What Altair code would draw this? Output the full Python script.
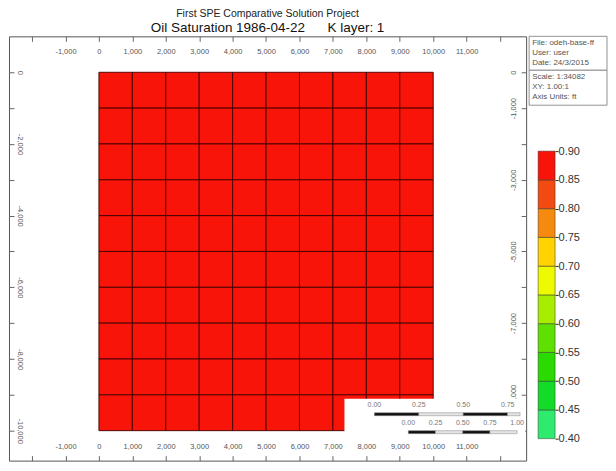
import altair as alt
import pandas as pd

# ---------------- data ----------------
col_x = [0, 1000, 2000, 3000, 4000, 5000, 6000, 7000, 8000, 9000]          # cell left edges (ft)
row_y = [0, -1000, -2000, -3000, -4000, -5000, -6000, -7000, -8000, -9000]  # cell top edges (ft)
cell_size = 1000
oil_sat = [
    [0.88, 0.88, 0.88, 0.88, 0.88, 0.88, 0.88, 0.88, 0.88, 0.88],
    [0.88, 0.88, 0.88, 0.88, 0.88, 0.88, 0.88, 0.88, 0.88, 0.88],
    [0.88, 0.88, 0.88, 0.88, 0.88, 0.88, 0.88, 0.88, 0.88, 0.88],
    [0.88, 0.88, 0.88, 0.88, 0.88, 0.88, 0.88, 0.88, 0.88, 0.88],
    [0.88, 0.88, 0.88, 0.88, 0.88, 0.88, 0.88, 0.88, 0.88, 0.88],
    [0.88, 0.88, 0.88, 0.88, 0.88, 0.88, 0.88, 0.88, 0.88, 0.88],
    [0.88, 0.88, 0.88, 0.88, 0.88, 0.88, 0.88, 0.88, 0.88, 0.88],
    [0.88, 0.88, 0.88, 0.88, 0.88, 0.88, 0.88, 0.88, 0.88, 0.88],
    [0.88, 0.88, 0.88, 0.88, 0.88, 0.88, 0.88, 0.88, 0.88, 0.88],
    [0.88, 0.88, 0.88, 0.88, 0.88, 0.88, 0.88, 0.88, 0.88, 0.88],
]

x_ticks = [-2000, -1000, 0, 1000, 2000, 3000, 4000, 5000, 6000, 7000,
           8000, 9000, 10000, 11000, 12000]
y_ticks = [0, -1000, -2000, -3000, -4000, -5000, -6000, -7000, -8000, -9000, -10000]

cb_edges = [0.40, 0.45, 0.50, 0.55, 0.60, 0.65, 0.70, 0.75, 0.80, 0.85, 0.90]
cb_colors = ["#2EEB6E", "#12DC28", "#2BDA00", "#5EE000", "#A8EC00",
             "#EEFA00", "#FFD200", "#F58A0E", "#F24A10", "#F81408"]

bar1_start = [0.00, 0.25, 0.50, 0.75]
bar1_end = [0.25, 0.50, 0.75, 0.82]
bar1_ticks = [0.00, 0.25, 0.50, 0.75]
bar1_labels = ["0.00", "0.25", "0.50", "0.75"]
bar2_start = [0.00, 0.25, 0.50, 0.75]
bar2_end = [0.25, 0.50, 0.75, 1.00]
bar2_ticks = [0.00, 0.25, 0.50, 0.75, 1.00]
bar2_labels = ["0.00", "0.25", "0.50", "0.75", "1.00"]

info1 = ["File: odeh-base-ff", "User: user", "Date: 24/3/2015"]
info2 = ["Scale: 1:34082", "XY: 1.00:1", "Axis Units: ft"]

title_line = "First SPE Comparative Solution Project"
subtitle_line = "Oil Saturation 1986-04-22\u00a0\u00a0\u00a0\u00a0\u00a0 K layer: 1"

# ---------------- tables ----------------
rows = []
for r, y0 in enumerate(row_y):
    for c, x0 in enumerate(col_x):
        rows.append({"x0": x0, "x1": x0 + cell_size, "y0": y0, "y1": y0 - cell_size,
                     "so": oil_sat[r][c]})
cells = pd.DataFrame(rows)
cb = pd.DataFrame({"lo": cb_edges[:-1], "hi": cb_edges[1:]})
sb1 = pd.DataFrame({"start": bar1_start, "end": bar1_end, "i": list(range(len(bar1_start)))})
sb2 = pd.DataFrame({"start": bar2_start, "end": bar2_end, "i": list(range(len(bar2_start)))})
sb1_lab = pd.DataFrame({"v": bar1_ticks, "t": bar1_labels})
sb2_lab = pd.DataFrame({"v": bar2_ticks, "t": bar2_labels})
one = pd.DataFrame({"k": [0]})

# ---------------- layout / style ----------------
W, H = 518, 425
FONT = "Liberation Sans"
xs = alt.Scale(domain=[-2690, 12780], nice=False, zero=False)
ys = alt.Scale(domain=[-10836, 1003], nice=False, zero=False)
cs = alt.Scale(type="threshold", domain=cb_edges[1:-1], range=cb_colors)

fmt = "replace(format(datum.value, ','), '\u2212', '-')"
ax = dict(domain=False, grid=False, tickColor="#666", tickSize=5, offset=-5,
          labelFont=FONT, labelFontSize=7.5, labelColor="#555", labelOverlap=False)

x_lab = "datum.value >= -1000 && datum.value <= 11000 ? " + fmt + " : ''"
bottom_axis = alt.Axis(orient="bottom", values=x_ticks, labelExpr=x_lab,
                       labelPadding=-14, labelBaseline="middle", labelFlush=False, **ax)
top_axis = alt.Axis(orient="top", values=x_ticks, labelExpr=x_lab,
                    labelPadding=-15, labelBaseline="middle", labelFlush=False, **ax)
left_axis = alt.Axis(orient="left", values=y_ticks,
                     labelExpr="datum.value % 2000 == 0 ? " + fmt + " : ''",
                     labelPadding=-11, labelAngle=90, labelAlign="center",
                     labelBaseline="middle", **ax)
right_axis = alt.Axis(orient="right", values=y_ticks,
                      labelExpr="(datum.value == 0 || datum.value % 2000 != 0) ? " + fmt + " : ''",
                      labelPadding=-13, labelAngle=270, labelAlign="center",
                      labelBaseline="middle", **ax)

cells_layer = alt.Chart(cells).mark_rect(stroke="#400000", strokeWidth=0.9).encode(
    x=alt.X("x0:Q", scale=xs, axis=bottom_axis, title=None),
    x2="x1:Q",
    y=alt.Y("y0:Q", scale=ys, axis=left_axis, title=None),
    y2="y1:Q",
    color=alt.Color("so:Q", scale=cs, legend=None),
)

axes_layer = alt.Chart(cells).mark_rect(opacity=0).encode(
    x=alt.X("x0:Q", scale=xs, axis=top_axis, title=None),
    x2="x1:Q",
    y=alt.Y("y0:Q", scale=ys, axis=right_axis, title=None),
    y2="y1:Q",
)

white_box = alt.Chart(one).mark_rect(fill="white").encode(
    x=alt.value(336), x2=alt.value(517), y=alt.value(363), y2=alt.value(401))

sb1_scale = alt.Scale(domain=[0, 1], range=[366, 544], nice=False, zero=False)
sb2_scale = alt.Scale(domain=[0, 1], range=[400, 509], nice=False, zero=False)
seg_fill = alt.condition("datum.i % 2 == 0", alt.value("#111111"), alt.value("#e4e4e4"))

bar1 = alt.Chart(sb1).mark_rect(stroke="#888", strokeWidth=0.5).encode(
    x=alt.X("start:Q", scale=sb1_scale, axis=None), x2="end:Q",
    y=alt.value(377), y2=alt.value(380), fill=seg_fill)
bar1_text = alt.Chart(sb1_lab).mark_text(font=FONT, fontSize=7, color="#777").encode(
    x=alt.X("v:Q", scale=sb1_scale, axis=None), y=alt.value(369), text="t:N")
bar2 = alt.Chart(sb2).mark_rect(stroke="#888", strokeWidth=0.5).encode(
    x=alt.X("start:Q", scale=sb2_scale, axis=None), x2="end:Q",
    y=alt.value(395), y2=alt.value(398), fill=seg_fill)
bar2_text = alt.Chart(sb2_lab).mark_text(font=FONT, fontSize=7, color="#777").encode(
    x=alt.X("v:Q", scale=sb2_scale, axis=None), y=alt.value(387), text="t:N")

cb_axis = alt.Axis(orient="right", offset=29, values=cb_edges, format=".2f", domain=False,
                   grid=False, tickSize=3, tickColor="#222", labelPadding=0,
                   labelFont=FONT, labelFontSize=11, labelColor="#333", labelOverlap=False)
colorbar = alt.Chart(cb).transform_calculate(mid="(datum.lo + datum.hi) / 2").mark_rect(
    stroke="#333", strokeWidth=0.5).encode(
    x=alt.value(530), x2=alt.value(547),
    y=alt.Y("lo:Q", scale=alt.Scale(domain=[0.4, 0.9], range=[403, 115], nice=False, zero=False),
            axis=cb_axis, title=None),
    y2="hi:Q",
    color=alt.Color("mid:Q", scale=cs, legend=None),
)

box1 = alt.Chart(one).mark_rect(fill="white", stroke="#777", strokeWidth=0.8).encode(
    x=alt.value(521), x2=alt.value(599), y=alt.value(0), y2=alt.value(34))
box2 = alt.Chart(one).mark_rect(fill="white", stroke="#777", strokeWidth=0.8).encode(
    x=alt.value(521), x2=alt.value(599), y=alt.value(34), y2=alt.value(69))
txt1 = alt.Chart(pd.DataFrame({"t": ["\n".join(info1)]})).mark_text(
    align="left", baseline="top", lineBreak="\n", lineHeight=10, font=FONT, fontSize=8,
    color="#555").encode(x=alt.value(524), y=alt.value(3), text="t:N")
txt2 = alt.Chart(pd.DataFrame({"t": ["\n".join(info2)]})).mark_text(
    align="left", baseline="top", lineBreak="\n", lineHeight=10, font=FONT, fontSize=8,
    color="#555").encode(x=alt.value(524), y=alt.value(37), text="t:N")

chart = alt.layer(
    cells_layer, axes_layer, white_box, bar1, bar1_text, bar2, bar2_text,
    colorbar, box1, box2, txt1, txt2,
).resolve_scale(x="independent", y="independent").properties(
    width=W, height=H, padding=0,
    title=alt.TitleParams(text=title_line, subtitle=subtitle_line,
                          font=FONT, fontSize=10.5, fontWeight="normal", color="#222",
                          subtitleFont=FONT, subtitleFontSize=13.5, subtitleColor="#111",
                          subtitlePadding=2, anchor="middle", frame="group", offset=1),
).configure_view(stroke="#555", strokeWidth=1)

chart.save("out.html", embed_options={"renderer": "svg", "actions": False})
